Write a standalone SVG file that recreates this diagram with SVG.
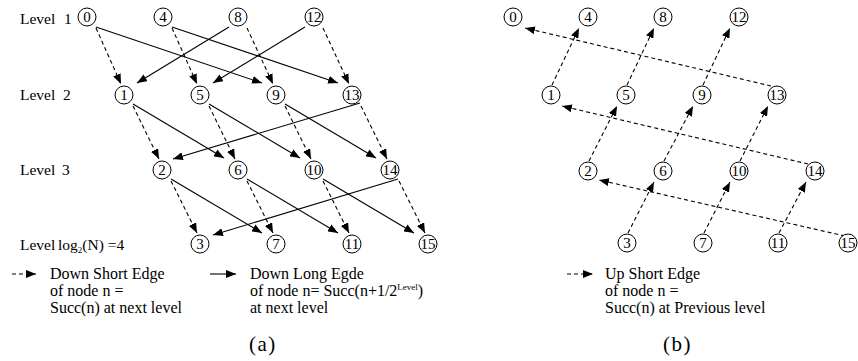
<svg xmlns="http://www.w3.org/2000/svg" width="858" height="361" viewBox="0 0 858 361" font-family="'Liberation Serif', Tinos, 'DejaVu Serif', serif">
  <style>
    text { font-family: 'Liberation Serif', Tinos, 'DejaVu Serif', serif; fill: #000; }
    .lbl { font-size: 15.5px; }
    .leg { font-size: 16px; }
    .num { font-size: 15px; text-anchor: middle; }
    .cap { font-size: 21px; letter-spacing: 1.5px; }
    .node circle { fill: #fff; stroke: #000; stroke-width: 1; }
    .edge { fill: none; stroke: #000; stroke-width: 1.1; marker-end: url(#arr); }
    .dash { stroke-dasharray: 4 3; }
  </style>
  <defs>
    <marker id="arr" markerUnits="userSpaceOnUse" markerWidth="10" markerHeight="8" refX="10" refY="4" orient="auto">
      <path d="M0,0 L10,4 L0,8 Z" fill="#000"/>
    </marker>
  </defs>

  <rect width="858" height="361" fill="#fff"/>

  <!-- level labels, panel (a) -->
  <g id="level-labels">
    <text class="lbl" x="20" y="24">Level</text><text class="lbl" x="64" y="24">1</text>
    <text class="lbl" x="20" y="100">Level</text><text class="lbl" x="63" y="100">2</text>
    <text class="lbl" x="20" y="175">Level</text><text class="lbl" x="62" y="175">3</text>
    <text class="lbl" x="20" y="250">Level</text>
    <text class="lbl" x="58" y="250">log<tspan font-size="9" dy="3">2</tspan><tspan dy="-3">(N) =4</tspan></text>
  </g>

  <!-- connectors -->
  <g id="connectors">
    <!-- (a) down short edges -->
    <line class="edge dash" x1="96" y1="28" x2="121" y2="84"/>
    <line class="edge dash" x1="172" y1="28" x2="197" y2="84"/>
    <line class="edge dash" x1="247" y1="28" x2="273" y2="84"/>
    <line class="edge dash" x1="323" y1="28" x2="349" y2="84"/>
    <line class="edge dash" x1="133" y1="106" x2="159" y2="159"/>
    <line class="edge dash" x1="209" y1="106" x2="235" y2="159"/>
    <line class="edge dash" x1="285" y1="106" x2="311" y2="159"/>
    <line class="edge dash" x1="361" y1="106" x2="387" y2="159"/>
    <line class="edge dash" x1="171" y1="181" x2="197" y2="233"/>
    <line class="edge dash" x1="247" y1="181" x2="273" y2="233"/>
    <line class="edge dash" x1="323" y1="181" x2="349" y2="233"/>
    <line class="edge dash" x1="399" y1="181" x2="425" y2="233"/>
    <!-- (a) down long edges -->
    <line class="edge" x1="96" y1="27" x2="262" y2="83"/>
    <line class="edge" x1="172" y1="27" x2="338" y2="83"/>
    <line class="edge" x1="229" y1="27" x2="137" y2="83"/>
    <line class="edge" x1="305" y1="27" x2="213" y2="83"/>
    <line class="edge" x1="133" y1="104" x2="224" y2="158"/>
    <line class="edge" x1="209" y1="104" x2="300" y2="158"/>
    <line class="edge" x1="285" y1="104" x2="376" y2="158"/>
    <line class="edge" x1="360" y1="103" x2="173" y2="159"/>
    <line class="edge" x1="171" y1="179" x2="262" y2="233"/>
    <line class="edge" x1="247" y1="179" x2="338" y2="233"/>
    <line class="edge" x1="323" y1="179" x2="414" y2="233"/>
    <line class="edge" x1="398" y1="179" x2="213" y2="235"/>

    <!-- (b) up short edges -->
    <line class="edge dash" x1="552" y1="85" x2="579" y2="28"/>
    <line class="edge dash" x1="627" y1="85" x2="654" y2="28"/>
    <line class="edge dash" x1="703" y1="85" x2="730" y2="28"/>
    <line class="edge dash" x1="589" y1="161" x2="617" y2="106"/>
    <line class="edge dash" x1="664" y1="161" x2="693" y2="106"/>
    <line class="edge dash" x1="740" y1="161" x2="768" y2="106"/>
    <line class="edge dash" x1="628" y1="233" x2="654" y2="182"/>
    <line class="edge dash" x1="704" y1="233" x2="730" y2="182"/>
    <line class="edge dash" x1="779" y1="233" x2="806" y2="182"/>
    <!-- (b) long up edges -->
    <line class="edge dash" x1="771" y1="86" x2="525" y2="28"/>
    <line class="edge dash" x1="808" y1="164" x2="562" y2="106"/>
    <line class="edge dash" x1="845" y1="236" x2="599" y2="180"/>

    <!-- legend arrows -->
    <line class="edge dash" x1="12" y1="274" x2="36" y2="274"/>
    <line class="edge" x1="210" y1="274" x2="236" y2="274"/>
    <line class="edge dash" x1="567" y1="274" x2="593" y2="274"/>
  </g>

  <!-- nodes, panel (a) -->
  <g id="a-n0" class="node"><circle cx="87" cy="17" r="9"/><text class="num" x="87" y="22">0</text></g>
  <g id="a-n4" class="node"><circle cx="163" cy="17" r="9"/><text class="num" x="163" y="22">4</text></g>
  <g id="a-n8" class="node"><circle cx="238" cy="17" r="9"/><text class="num" x="238" y="22">8</text></g>
  <g id="a-n12" class="node"><circle cx="314" cy="17" r="9"/><text class="num" x="314" y="22">12</text></g>
  <g id="a-n1" class="node"><circle cx="124" cy="95" r="9"/><text class="num" x="124" y="100">1</text></g>
  <g id="a-n5" class="node"><circle cx="200" cy="95" r="9"/><text class="num" x="200" y="100">5</text></g>
  <g id="a-n9" class="node"><circle cx="276" cy="95" r="9"/><text class="num" x="276" y="100">9</text></g>
  <g id="a-n13" class="node"><circle cx="352" cy="95" r="9"/><text class="num" x="352" y="100">13</text></g>
  <g id="a-n2" class="node"><circle cx="162" cy="170" r="9"/><text class="num" x="162" y="175">2</text></g>
  <g id="a-n6" class="node"><circle cx="238" cy="170" r="9"/><text class="num" x="238" y="175">6</text></g>
  <g id="a-n10" class="node"><circle cx="314" cy="170" r="9"/><text class="num" x="314" y="175">10</text></g>
  <g id="a-n14" class="node"><circle cx="390" cy="170" r="9"/><text class="num" x="390" y="175">14</text></g>
  <g id="a-n3" class="node"><circle cx="200" cy="244" r="9"/><text class="num" x="200" y="249">3</text></g>
  <g id="a-n7" class="node"><circle cx="276" cy="244" r="9"/><text class="num" x="276" y="249">7</text></g>
  <g id="a-n11" class="node"><circle cx="352" cy="244" r="9"/><text class="num" x="352" y="249">11</text></g>
  <g id="a-n15" class="node"><circle cx="428" cy="244" r="9"/><text class="num" x="428" y="249">15</text></g>

  <!-- nodes, panel (b) -->
  <g id="b-n0" class="node"><circle cx="513" cy="17" r="9"/><text class="num" x="513" y="22">0</text></g>
  <g id="b-n4" class="node"><circle cx="588" cy="17" r="9"/><text class="num" x="588" y="22">4</text></g>
  <g id="b-n8" class="node"><circle cx="663" cy="17" r="9"/><text class="num" x="663" y="22">8</text></g>
  <g id="b-n12" class="node"><circle cx="739" cy="17" r="9"/><text class="num" x="739" y="22">12</text></g>
  <g id="b-n1" class="node"><circle cx="551" cy="95" r="9"/><text class="num" x="551" y="100">1</text></g>
  <g id="b-n5" class="node"><circle cx="626" cy="95" r="9"/><text class="num" x="626" y="100">5</text></g>
  <g id="b-n9" class="node"><circle cx="702" cy="95" r="9"/><text class="num" x="702" y="100">9</text></g>
  <g id="b-n13" class="node"><circle cx="777" cy="95" r="9"/><text class="num" x="777" y="100">13</text></g>
  <g id="b-n2" class="node"><circle cx="588" cy="171" r="9"/><text class="num" x="588" y="176">2</text></g>
  <g id="b-n6" class="node"><circle cx="663" cy="171" r="9"/><text class="num" x="663" y="176">6</text></g>
  <g id="b-n10" class="node"><circle cx="739" cy="171" r="9"/><text class="num" x="739" y="176">10</text></g>
  <g id="b-n14" class="node"><circle cx="815" cy="171" r="9"/><text class="num" x="815" y="176">14</text></g>
  <g id="b-n3" class="node"><circle cx="627" cy="243" r="9"/><text class="num" x="627" y="248">3</text></g>
  <g id="b-n7" class="node"><circle cx="703" cy="243" r="9"/><text class="num" x="703" y="248">7</text></g>
  <g id="b-n11" class="node"><circle cx="778" cy="243" r="9"/><text class="num" x="778" y="248">11</text></g>
  <g id="b-n15" class="node"><circle cx="848" cy="243" r="9"/><text class="num" x="848" y="248">15</text></g>

  <!-- legends -->
  <g id="legend-a-short">
    <text class="leg" x="50" y="279">Down Short Edge</text>
    <text class="leg" x="50" y="296">of node n =</text>
    <text class="leg" x="50" y="313">Succ(n) at next level</text>
  </g>
  <g id="legend-a-long">
    <text class="leg" x="250" y="279">Down Long Egde</text>
    <text class="leg" x="250" y="296">of node n= Succ(n+1/2<tspan font-size="9" dy="-6">Level</tspan><tspan dy="6">)</tspan></text>
    <text class="leg" x="250" y="313">at next level</text>
  </g>
  <g id="legend-b">
    <text class="leg" x="605" y="279">Up Short Edge</text>
    <text class="leg" x="605" y="296">of node n =</text>
    <text class="leg" x="605" y="313">Succ(n) at Previous level</text>
  </g>

  <g id="captions">
    <text class="cap" x="249" y="351">(a)</text>
    <text class="cap" x="663" y="351">(b)</text>
  </g>
</svg>
